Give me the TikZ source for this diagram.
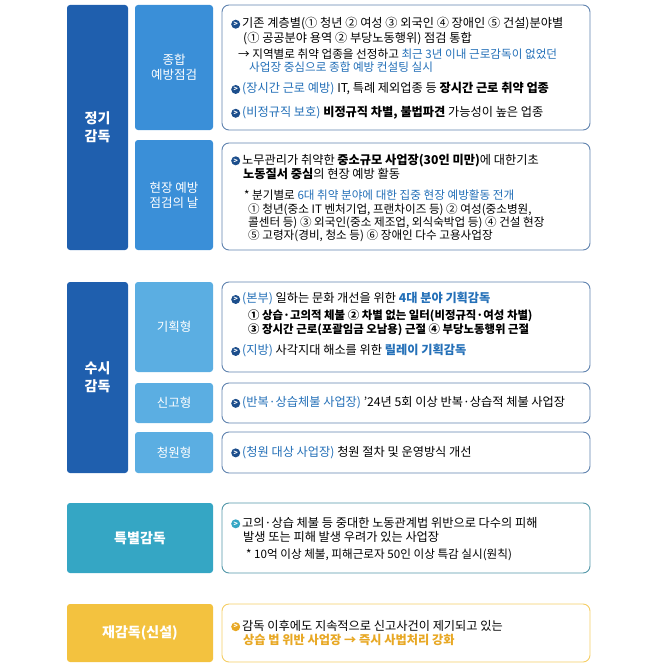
\documentclass[tikz,border=0pt]{standalone}
\usepackage{fontspec}
\setmainfont{Noto Sans CJK KR}
\usetikzlibrary{positioning}
\definecolor{dblue}{HTML}{1F5FAE}
\definecolor{mblue}{HTML}{3A8FD8}
\definecolor{lblue}{HTML}{5BAEE2}
\definecolor{teal}{HTML}{35A6C4}
\definecolor{ylw}{HTML}{F3C23F}
\definecolor{hl}{HTML}{2470B8}
\definecolor{navy}{HTML}{1C4E8C}
\definecolor{orng}{HTML}{E8A824}
\newsavebox\bulbox
\savebox\bulbox{\tikz\node[circle,fill=navy,inner sep=0pt,minimum size=9pt,text=white,font=\fontsize{7}{7}\selectfont\bfseries]{>};}
\newsavebox\bulboxt
\savebox\bulboxt{\tikz\node[circle,fill=teal,inner sep=0pt,minimum size=9pt,text=white,font=\fontsize{7}{7}\selectfont\bfseries]{>};}
\newsavebox\bulboxy
\savebox\bulboxy{\tikz\node[circle,fill=orng,inner sep=0pt,minimum size=9pt,text=white,font=\fontsize{7}{7}\selectfont\bfseries]{>};}
\newcommand\bl{\raisebox{-1pt}{\usebox\bulbox}\,}
\newcommand\blt{\raisebox{-1pt}{\usebox\bulboxt}\,}
\newcommand\bly{\raisebox{-1pt}{\usebox\bulboxy}\,}
\newcommand\hb[1]{\textcolor{hl}{#1}}
\begin{document}
\begin{tikzpicture}[x=1pt,y=-1pt,
  cat/.style={rounded corners=3pt,text=white,font=\fontsize{14}{18}\selectfont\bfseries,align=center},
  sub/.style={rounded corners=3pt,text=white,font=\fontsize{12.5}{15}\selectfont,align=center},
  content/.style={draw=navy!70,line width=0.9pt,rounded corners=7pt,fill=white},
  txt/.style={anchor=west,align=left,font=\fontsize{12.2}{14.5}\selectfont,inner sep=0pt},
  small/.style={font=\fontsize{11.6}{13}\selectfont}]
\useasboundingbox (0,0) rectangle (658,669);
% 정기감독
\node[cat,fill=dblue,minimum width=61pt,minimum height=245pt] (jg) at (97.5,127.5) {정기\\감독};
\node[sub,fill=mblue,minimum width=78pt,minimum height=125pt] (jh) at (174,67.5) {종합\\예방점검};
\node[sub,fill=mblue,minimum width=78pt,minimum height=110pt] (hj) at (174,195) {현장 예방\\점검의 날};
\node[content,minimum width=368pt,minimum height=125pt] (c1) at (406,67.5) {};
\node[content,minimum width=368pt,minimum height=107pt] (c2) at (406,196.5) {};
\node[txt] (t1a) at (231,31) {\bl 기존 계층별(① 청년 ② 여성 ③ 외국인 ④ 장애인 ⑤ 건설)분야별\\\hspace{12pt}(① 공공분야 용역 ② 부당노동행위) 점검 통합};
\node[txt,small] (t1b) at (238,61) {→ 지역별로 취약 업종을 선정하고 \hb{최근 3년 이내 근로감독이 없었던}\\\hspace{11pt}\hb{사업장 중심으로 종합 예방 컨설팅 실시}};
\node[txt] (t1c) at (231,89) {\bl \hb{(장시간 근로 예방)} IT, 특례 제외업종 등 \textbf{장시간 근로 취약 업종}};
\node[txt] (t1d) at (231,113) {\bl \hb{(비정규직 보호)} \textbf{비정규직 차별, 불법파견} 가능성이 높은 업종};
\node[txt] (t2a) at (231,167) {\bl 노무관리가 취약한 \textbf{중소규모 사업장(30인 미만)}에 대한기초\\\hspace{12pt}\textbf{노동질서 중심}의 현장 예방 활동};
\node[txt,small] (t2b) at (244,216) {* 분기별로 \hb{6대 취약 분야에 대한 집중 현장 예방활동 전개}\\[1pt]\hspace{4pt}① 청년(중소 IT 벤처기업, 프랜차이즈 등) ② 여성(중소병원,\\\hspace{4pt}콜센터 등) ③ 외국인(중소 제조업, 외식숙박업 등) ④ 건설 현장\\\hspace{4pt}⑤ 고령자(경비, 청소 등) ⑥ 장애인 다수 고용사업장};
% 수시감독
\node[cat,fill=dblue,minimum width=61pt,minimum height=191pt] (sg) at (97.5,377.5) {수시\\감독};
\node[sub,fill=lblue,minimum width=78pt,minimum height=90pt] (gh) at (174,327) {기획형};
\node[sub,fill=lblue,minimum width=78pt,minimum height=40pt] (sh) at (174,403) {신고형};
\node[sub,fill=lblue,minimum width=78pt,minimum height=41pt] (ch) at (174,452.5) {청원형};
\node[content,minimum width=368pt,minimum height=90pt] (c3) at (406,327) {};
\node[content,minimum width=368pt,minimum height=40pt] (c4) at (406,403) {};
\node[content,minimum width=368pt,minimum height=41pt] (c5) at (406,452.5) {};
\node[txt] (t3a) at (231,299) {\bl \hb{(본부)} 일하는 문화 개선을 위한 \hb{\textbf{4대 분야 기획감독}}};
\node[txt,font=\fontsize{11.4}{13.5}\selectfont\bfseries] (t3b) at (248,323) {① 상습·고의적 체불 ② 차별 없는 일터(비정규직·여성 차별)\\③ 장시간 근로(포괄임금 오남용) 근절 ④ 부당노동행위 근절};
\node[txt] (t3c) at (231,351) {\bl \hb{(지방)} 사각지대 해소를 위한 \hb{\textbf{릴레이 기획감독}}};
\node[txt] (t4) at (231,403) {\bl \hb{(반복·상습체불 사업장)} '24년 5회 이상 반복·상습적 체불 사업장};
\node[txt] (t5) at (231,452.5) {\bl \hb{(청원 대상 사업장)} 청원 절차 및 운영방식 개선};
% 특별감독
\node[cat,fill=teal,minimum width=146pt,minimum height=70pt] (tg) at (140,538) {특별감독};
\node[content,draw=teal!60!gray,minimum width=368pt,minimum height=70pt] (c6) at (406,538) {};
\node[txt] (t6a) at (231,530) {\blt 고의·상습 체불 등 중대한 노동관계법 위반으로 다수의 피해\\\hspace{12pt}발생 또는 피해 발생 우려가 있는 사업장};
\node[txt,small] (t6b) at (246,555) {* 10억 이상 체불, 피해근로자 50인 이상 특감 실시(원칙)};
% 재감독
\node[cat,fill=ylw,minimum width=146pt,minimum height=58pt] (rg) at (140,633) {재감독(신설)};
\node[content,draw=ylw!80,minimum width=368pt,minimum height=58pt] (c7) at (406,633) {};
\node[txt] (t7) at (231,633) {\bly 감독 이후에도 지속적으로 신고사건이 제기되고 있는\\\hspace{12pt}\textcolor{orng}{\textbf{상습 법 위반 사업장 → 즉시 사법처리 강화}}};
\end{tikzpicture}
\end{document}
